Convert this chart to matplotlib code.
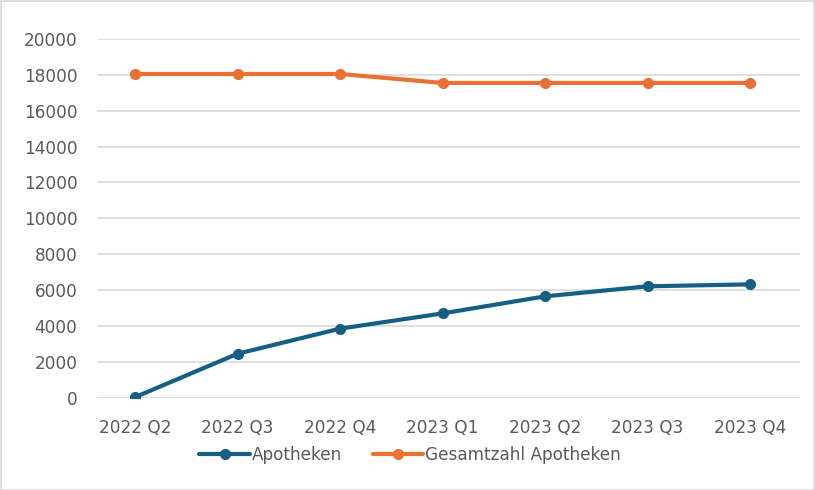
import matplotlib
matplotlib.use("Agg")
import matplotlib.pyplot as plt
from matplotlib.patches import Rectangle

categories = ["2022 Q2", "2022 Q3", "2022 Q4", "2023 Q1", "2023 Q2", "2023 Q3", "2023 Q4"]
apotheken = [30, 2450, 3850, 4700, 5650, 6210, 6320]
gesamt = [18050, 18050, 18050, 17550, 17550, 17550, 17550]
yticks = [0, 2000, 4000, 6000, 8000, 10000, 12000, 14000, 16000, 18000, 20000]

plt.rcParams['font.family'] = ['DejaVu Sans']
text_color = "#595959"
blue = "#156082"
orange = "#E97132"

fig = plt.figure(figsize=(8.15, 4.9), dpi=100)
ax = fig.add_axes([97/815, (490-397.7)/490, (800-97)/815, (397.7-39)/490])

x = list(range(len(categories)))
ax.plot(x, apotheken, color=blue, lw=3, marker='o', ms=7, label="Apotheken", solid_capstyle='round', zorder=3)
ax.plot(x, gesamt, color=orange, lw=3, marker='o', ms=7, label="Gesamtzahl Apotheken", solid_capstyle='round', zorder=3)

ax.set_ylim(0, 20000)
ax.set_xlim(-38/102.5, 6 + 50/102.5)
ax.set_yticks(yticks)
ax.set_yticklabels([str(v) for v in yticks])
ax.set_xticks(x)
ax.set_xticklabels(categories)
ax.tick_params(axis='both', length=0, labelsize=12.2, colors=text_color)
ax.tick_params(axis='y', pad=14)
ax.tick_params(axis='x', pad=15)
ax.grid(axis='y', color="#d9d9d9", lw=1.2)
ax.set_axisbelow(True)
for s in ax.spines.values():
    s.set_visible(False)

leg = fig.legend(loc='center', bbox_to_anchor=(410/815, 1-455/490), ncol=2, frameon=False,
                 fontsize=12.2, handlelength=3.0, handletextpad=0.1, columnspacing=1.8, labelcolor=text_color)

fig.patches.append(Rectangle((0.5/815, 0.5/490), 1-1.5/815, 1-1.5/490, transform=fig.transFigure,
                             fill=False, edgecolor="#d9d9d9", lw=1.2))

fig.savefig("out.png", dpi=100)
